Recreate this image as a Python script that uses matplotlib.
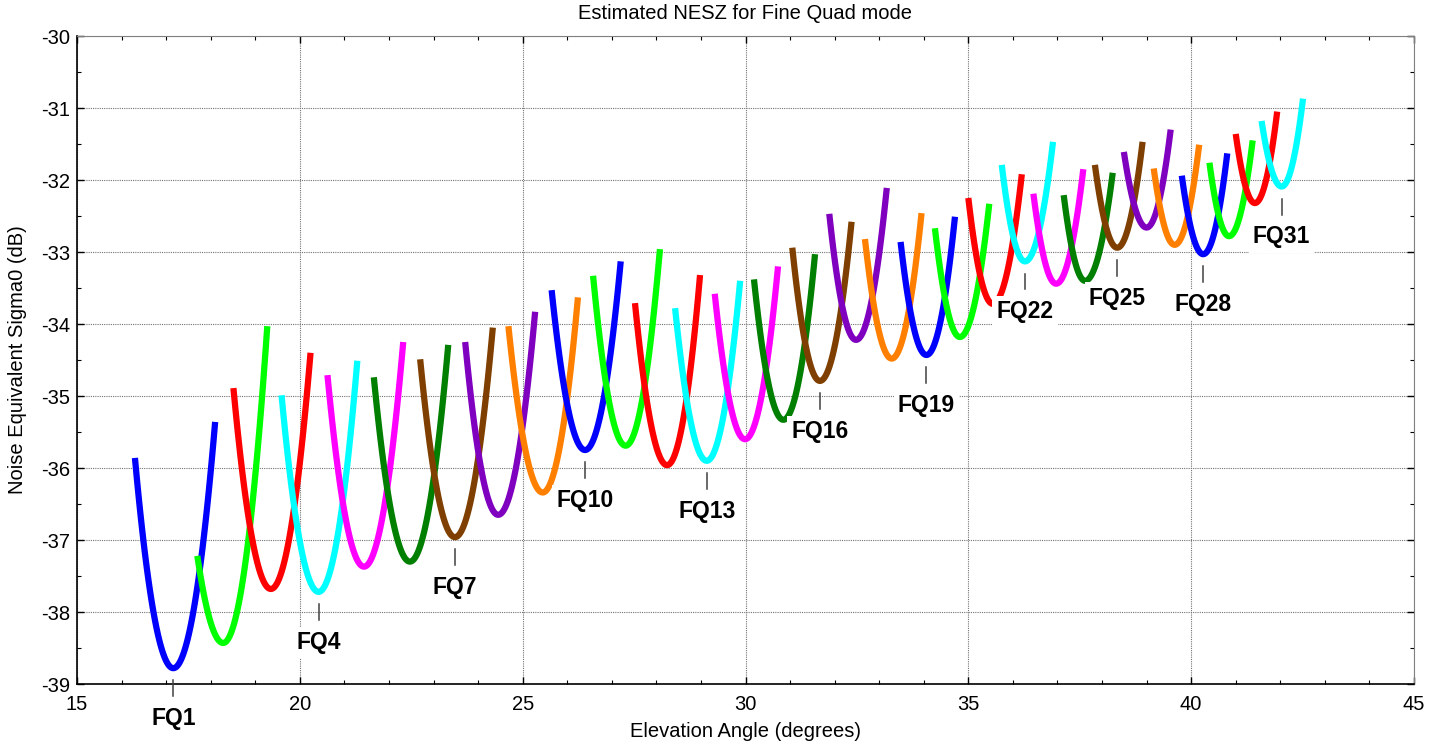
import numpy as np
import matplotlib.pyplot as plt
from matplotlib.ticker import MultipleLocator

plt.rcParams['font.family'] = ['Liberation Sans', 'DejaVu Sans']
plt.rcParams['axes.unicode_minus'] = False

# Fine Quad beams FQ1..FQ31: left edge, minimum and right edge of each NESZ curve
beam = np.arange(1, 32)
x_left = [16.30, 17.70, 18.51, 19.59, 20.62, 21.66, 22.70, 23.71, 24.68, 25.65,
          26.58, 27.52, 28.42, 29.31, 30.19, 31.05, 31.88, 32.68, 33.48, 34.25,
          35.00, 35.75, 36.46, 37.14, 37.84, 38.49, 39.16, 39.79, 40.41, 41.00, 41.58]
y_left = [-35.86, -37.22, -34.89, -34.99, -34.71, -34.74, -34.49, -34.25, -34.03, -33.53,
          -33.33, -33.71, -33.78, -33.58, -33.38, -32.94, -32.47, -32.82, -32.86, -32.67,
          -32.25, -31.79, -32.19, -32.21, -31.79, -31.61, -31.84, -31.94, -31.76, -31.36, -31.18]
x_min = [17.16, 18.28, 19.35, 20.42, 21.44, 22.47, 23.48, 24.45, 25.45, 26.40,
         27.31, 28.24, 29.13, 29.99, 30.85, 31.67, 32.48, 33.28, 34.06, 34.81,
         35.55, 36.27, 36.97, 37.62, 38.34, 39.00, 39.63, 40.27, 40.85, 41.43, 42.03]
y_min = [-38.78, -38.43, -37.68, -37.72, -37.37, -37.30, -36.96, -36.65, -36.34, -35.75,
         -35.69, -35.96, -35.90, -35.60, -35.33, -34.79, -34.22, -34.48, -34.43, -34.18,
         -33.72, -33.13, -33.44, -33.40, -32.94, -32.66, -32.90, -33.03, -32.78, -32.32, -32.09]
x_right = [18.10, 19.27, 20.24, 21.29, 22.32, 23.33, 24.33, 25.28, 26.24, 27.20,
           28.08, 28.98, 29.88, 30.73, 31.56, 32.38, 33.17, 33.95, 34.70, 35.47,
           36.20, 36.90, 37.58, 38.24, 38.91, 39.54, 40.18, 40.81, 41.38, 41.93, 42.51]
y_right = [-35.36, -34.03, -34.40, -34.51, -34.25, -34.29, -34.05, -33.83, -33.63, -33.13,
           -32.96, -33.32, -33.40, -33.20, -33.03, -32.58, -32.11, -32.46, -32.51, -32.33,
           -31.92, -31.47, -31.85, -31.90, -31.47, -31.30, -31.51, -31.63, -31.45, -31.05, -30.87]
labelled = [1, 4, 7, 10, 13, 16, 19, 22, 25, 28, 31]

colors = ['#0000ff', '#00ff00', '#ff0000', '#00ffff', '#ff00ff',
          '#007f00', '#7f3f00', '#7f00bf', '#ff7f00']

fig = plt.figure(figsize=(14.31, 7.41), dpi=100)
ax = fig.add_axes([77 / 1431, 1 - 684 / 741, (1414 - 77) / 1431, (684 - 36) / 741])

for i in range(len(beam)):
    # each side of the beam is a half parabola meeting at the minimum
    kl = (y_left[i] - y_min[i]) / (x_left[i] - x_min[i]) ** 2
    kr = (y_right[i] - y_min[i]) / (x_right[i] - x_min[i]) ** 2
    xl = np.linspace(x_left[i], x_min[i], 60)
    xr = np.linspace(x_min[i], x_right[i], 60)[1:]
    x = np.concatenate([xl, xr])
    y = np.concatenate([y_min[i] + kl * (xl - x_min[i]) ** 2,
                        y_min[i] + kr * (xr - x_min[i]) ** 2])
    ax.plot(x, y, color=colors[i % len(colors)], lw=4.5, solid_capstyle='butt', zorder=3)

for n in labelled:
    i = n - 1
    ax.plot([x_min[i], x_min[i]], [y_min[i] - 0.17, y_min[i] - 0.39],
            color='0.25', lw=1.1, clip_on=False, zorder=5)
    ax.text(x_min[i], y_min[i] - 0.70, f'FQ{n}', ha='center', va='center',
            fontsize=16.5, fontweight='bold', clip_on=False, zorder=6,
            bbox=dict(facecolor='white', edgecolor='none', pad=3))

ax.set_xlim(15, 45)
ax.set_ylim(-39, -30)
ax.xaxis.set_major_locator(MultipleLocator(5))
ax.xaxis.set_minor_locator(MultipleLocator(1))
ax.yaxis.set_major_locator(MultipleLocator(1))
ax.yaxis.set_minor_locator(MultipleLocator(0.5))
ax.set_axisbelow(True)
ax.grid(True, which='major', color='0.45', linestyle=(0, (1, 1)), lw=0.8)
ax.tick_params(which='both', direction='in', top=True, right=True, labelsize=14.5)
ax.tick_params(which='major', length=5, width=1)
ax.tick_params(which='minor', length=3, width=0.8)
ax.tick_params(axis='x', pad=8)
ax.tick_params(axis='y', pad=5)
for side in ['left', 'bottom']:
    ax.spines[side].set_linewidth(1.2)
for side in ['top', 'right']:
    ax.spines[side].set_color('0.5')
    ax.spines[side].set_linewidth(0.8)

ax.set_title('Estimated NESZ for Fine Quad mode', fontsize=14.5, pad=12)
ax.set_xlabel('Elevation Angle (degrees)', fontsize=14.5, labelpad=6)
ax.set_ylabel('Noise Equivalent Sigma0 (dB)', fontsize=14.5, labelpad=10)

fig.savefig('out.png', dpi=100)
